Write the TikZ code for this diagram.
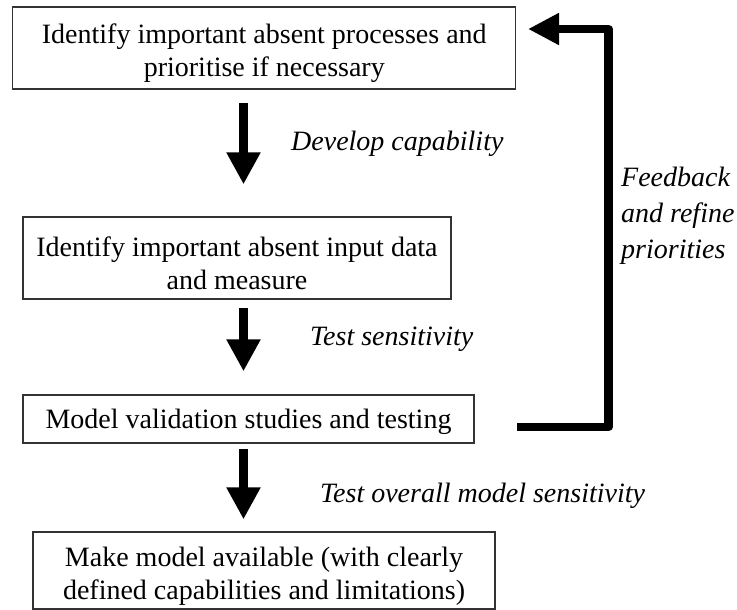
\documentclass[tikz,border=0pt]{standalone}
\usepackage{fontspec}
\setmainfont{Liberation Serif}
\usetikzlibrary{arrows.meta,calc}
% struts that set the text a little low inside the boxes
\newcommand\boxtopstrut{\rule{0pt}{30pt}}
\newcommand\boxonestrut{\rule{0pt}{24.5pt}}
\begin{document}
\begin{tikzpicture}[x=1pt,y=-1pt,
  stepbox/.style={draw=black!80, line width=1.2pt, rectangle, inner sep=0pt,
    align=center, font=\fontsize{28}{33}\selectfont},
  steplabel/.style={font=\fontsize{28}{36}\selectfont\itshape, inner sep=0pt},
  fatarrow/.style={line width=9pt, -{Triangle[length=32pt,width=32pt]}},
  looparrow/.style={line width=8.5pt, line join=round, -{Triangle[length=31pt,width=30pt]}}]
\path[use as bounding box] (0,0) rectangle (737,610);

% process boxes
\node[stepbox, minimum width=503pt, minimum height=82pt] (box1) at (264.3,48)
  {\boxtopstrut Identify important absent processes and\\prioritise if necessary};
\node[stepbox, minimum width=428pt, minimum height=82pt] (box2) at (237,258)
  {\boxtopstrut Identify important absent input data\\and measure};
\node[stepbox, minimum width=451pt, minimum height=48pt] (box3) at (248.5,419)
  {\boxonestrut Model validation studies and testing};
\node[stepbox, minimum width=462pt, minimum height=77pt] (box4) at (264,570.5)
  {\boxtopstrut Make model available (with clearly\\defined capabilities and limitations)};

% downward arrows between the steps
\coordinate (ax) at (243.5,0);
\draw[fatarrow, shorten <=13pt, shorten >=32pt] (box1.south -| ax) -- (box2.north -| ax);
\draw[fatarrow, shorten <=8pt, shorten >=23pt] (box2.south -| ax) -- (box3.north -| ax);
\draw[fatarrow, shorten <=5pt, shorten >=12pt] (box3.south -| ax) -- (box4.north -| ax);

% arrow labels
\node[steplabel, anchor=base west] (l1) at (291,150) {Develop capability};
\node[steplabel, anchor=base west] (l2) at (310,345) {Test sensitivity};
\node[steplabel, anchor=base west] (l3) at (320,502) {Test overall model sensitivity};

% feedback loop back to the first step
\coordinate (fbstart) at (517,427);
\coordinate (fbright) at (608.5,427);
\coordinate (fbtop) at (608.5,29);
\coordinate (fbend) at (528,29);
\draw[looparrow] (fbstart) -- (fbright) -- (fbtop) -- (fbend);
\node[steplabel, anchor=west, align=left] (fb) at (621,216)
  {Feedback\\and refine\\priorities};
\end{tikzpicture}
\end{document}
